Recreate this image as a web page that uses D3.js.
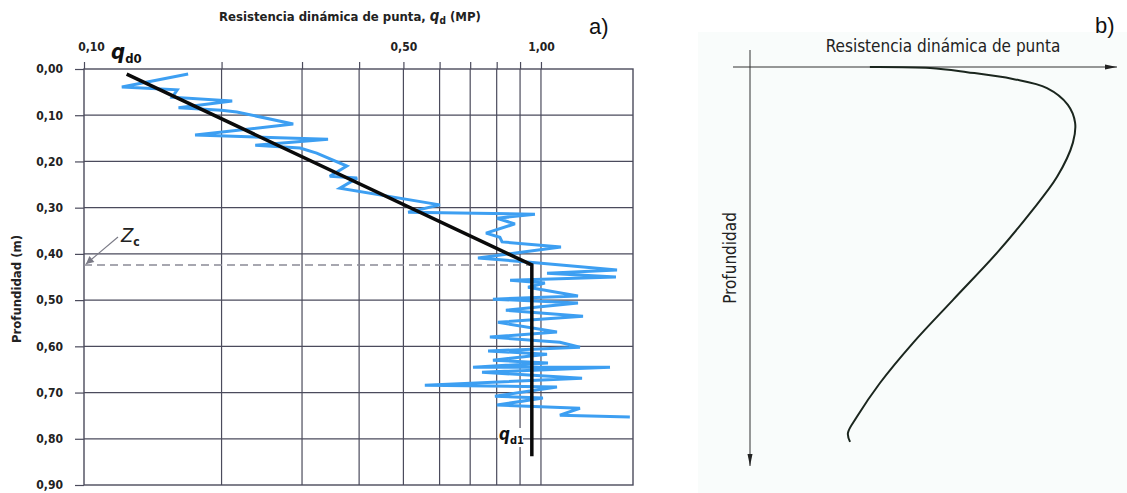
<!DOCTYPE html>
<html>
<head>
<meta charset="utf-8">
<script src="https://cdn.jsdelivr.net/npm/d3@7"></script>
<style>
  body { margin: 0; background: #fff; }
  svg { display: block; }
  .tick-label { font-family: "DejaVu Sans Condensed", "DejaVu Sans", sans-serif; font-weight: bold; font-size: 12px; fill: #222; }
  .axis-title { font-family: "DejaVu Sans Condensed", "DejaVu Sans", sans-serif; font-weight: bold; font-size: 13px; fill: #222; }
  .panel-tag { font-family: "Liberation Sans", Arial, sans-serif; font-size: 22px; fill: #111; }
</style>
</head>
<body>
<svg id="chart" width="1127" height="493"></svg>
<script>
// ---- Panel a data ----
// depth ticks (m) and resistance grid (MPa, log axis)
const depthTicks = [0, 0.1, 0.2, 0.3, 0.4, 0.5, 0.6, 0.7, 0.8, 0.9];
const qTicks = [0.1, 0.2, 0.3, 0.4, 0.5, 0.6, 0.7, 0.8, 0.9, 1.0];
const qLabelled = [0.1, 0.5, 1.0];

// measured trace: resistance qd and depth
const traceQ = [0.169, 0.121, 0.160, 0.156, 0.211, 0.161, 0.200, 0.216, 0.287, 0.175,
  0.342, 0.237, 0.297, 0.323, 0.376, 0.345, 0.396, 0.363, 0.601, 0.512,
  0.970, 0.801, 0.877, 0.758, 0.813, 0.822, 1.106, 0.728, 0.946, 1.467,
  1.031, 1.459, 0.856, 1.020, 0.937, 1.205, 0.785, 1.205, 0.838, 1.236,
  0.805, 1.084, 0.773, 1.100, 1.217, 0.766, 1.031, 0.785, 1.036, 0.710,
  1.416, 0.743, 1.230, 0.557, 1.084, 0.793, 1.010, 0.801, 1.217, 1.100, 1.565];
const traceDepth = [0.011, 0.039, 0.045, 0.061, 0.069, 0.084, 0.089, 0.093, 0.119, 0.143,
  0.152, 0.165, 0.171, 0.182, 0.210, 0.232, 0.236, 0.258, 0.294, 0.310,
  0.314, 0.323, 0.335, 0.355, 0.364, 0.374, 0.385, 0.409, 0.418, 0.435,
  0.442, 0.450, 0.457, 0.463, 0.472, 0.491, 0.498, 0.506, 0.522, 0.535,
  0.548, 0.569, 0.580, 0.591, 0.602, 0.610, 0.617, 0.630, 0.636, 0.645,
  0.645, 0.656, 0.669, 0.684, 0.688, 0.708, 0.712, 0.727, 0.734, 0.749, 0.753];

// idealised bilinear profile qd0 -> Zc -> qd1
const fitQ = [0.124, 0.955, 0.955];
const fitDepth = [0.011, 0.424, 0.838];
const zcDepth = 0.424;

// ---- Panel b data (schematic, relative units) ----
const curveR = [33.3, 50, 60.3, 73, 82.5, 88.3, 90.3, 89.7, 85.3, 77.8, 68.6, 56.4, 45.3, 36.1, 29.7, 27.2, 27.8];
const curveZ = [0, 0.25, 1.3, 3, 5.3, 9.5, 14, 19, 27.6, 36.7, 46.7, 58.5, 69.3, 79.4, 87.9, 92, 94.2];

const svg = d3.select('#chart');
const fmt = v => d3.format('.2f')(v).replace('.', ',');

// ================= Panel a =================
const x = d3.scaleLog().domain([0.1, 1.59]).range([84, 633]);
const y = d3.scaleLinear().domain([0, 0.9]).range([69, 485]);
const gridColor = '#4b4b5c';

const a = svg.append('g');

// grid
a.append('g').selectAll('line').data(qTicks.slice(1))
  .enter().append('line')
    .attr('x1', d => x(d)).attr('x2', d => x(d))
    .attr('y1', y(0)).attr('y2', y(0.9))
    .attr('stroke', gridColor).attr('stroke-width', 1.2);
a.append('g').selectAll('line').data(depthTicks.slice(1, -1))
  .enter().append('line')
    .attr('x1', x.range()[0]).attr('x2', x.range()[1])
    .attr('y1', d => y(d)).attr('y2', d => y(d))
    .attr('stroke', gridColor).attr('stroke-width', 1.2);
a.append('rect')
  .attr('x', x.range()[0]).attr('y', y(0))
  .attr('width', x.range()[1] - x.range()[0]).attr('height', y(0.9) - y(0))
  .attr('fill', 'none').attr('stroke', gridColor).attr('stroke-width', 1.4);

// top axis
const topAxis = a.append('g').attr('transform', `translate(0,${y(0)})`)
  .call(d3.axisTop(x).tickValues(qTicks).tickSize(7).tickPadding(11)
    .tickFormat(d => qLabelled.some(v => Math.abs(v - d) < 1e-9) ? fmt(d) : ''));
topAxis.select('.domain').remove();
topAxis.selectAll('line').attr('stroke', gridColor).attr('stroke-width', 1.2);
topAxis.selectAll('text').attr('class', 'tick-label').attr('dx', (d, i) => i === 0 ? 7 : 0);

// left axis
const leftAxis = a.append('g').attr('transform', `translate(${x.range()[0]},0)`)
  .call(d3.axisLeft(y).tickValues(depthTicks).tickSize(9).tickPadding(12).tickFormat(fmt));
leftAxis.select('.domain').remove();
leftAxis.selectAll('line').attr('stroke', gridColor).attr('stroke-width', 1.2);
leftAxis.selectAll('text').attr('class', 'tick-label');

// titles
const titleA = a.append('text').attr('class', 'axis-title')
  .attr('x', 350).attr('y', 21).attr('text-anchor', 'middle');
titleA.append('tspan').text('Resistencia dinámica de punta, ');
titleA.append('tspan').attr('font-style', 'italic').attr('font-size', 15).text('q');
titleA.append('tspan').attr('font-size', 10).attr('dy', 3).text('d');
titleA.append('tspan').attr('dy', -3).text(' (MP)');

a.append('text').attr('class', 'axis-title')
  .attr('transform', `translate(21,${(y(0) + y(0.9)) / 2 + 12}) rotate(-90)`)
  .attr('text-anchor', 'middle').text('Profundidad (m)');

a.append('text').attr('class', 'panel-tag').attr('x', 589).attr('y', 34).text('a)');

// Zc dashed line and label
a.append('line')
  .attr('x1', x.range()[0]).attr('x2', x(fitQ[1]))
  .attr('y1', y(zcDepth)).attr('y2', y(zcDepth))
  .attr('stroke', '#8a8a96').attr('stroke-width', 1.3).attr('stroke-dasharray', '8,5');

const defs = svg.append('defs');
defs.append('marker').attr('id', 'zcArrow')
  .attr('viewBox', '0 0 10 10').attr('refX', 10).attr('refY', 5)
  .attr('markerWidth', 9).attr('markerHeight', 7).attr('orient', 'auto')
  .append('path').attr('d', 'M0,0L10,5L0,10Z').attr('fill', '#7a7a86');
a.append('line')
  .attr('x1', 118).attr('y1', 237).attr('x2', x.range()[0] + 2).attr('y2', y(zcDepth) - 1)
  .attr('stroke', '#7a7a86').attr('stroke-width', 1.1).attr('marker-end', 'url(#zcArrow)');
const zc = a.append('text').attr('x', 121).attr('y', 242)
  .attr('font-family', '"DejaVu Sans Condensed", sans-serif').attr('fill', '#222');
zc.append('tspan').attr('font-style', 'italic').attr('font-size', 20).text('Z');
zc.append('tspan').attr('font-size', 12).attr('font-weight', 'bold').attr('dy', 4).text('c');

// measured trace
const pts = traceQ.map((q, i) => [x(q), y(traceDepth[i])]);
a.append('path')
  .attr('d', d3.line()(pts))
  .attr('fill', 'none').attr('stroke', '#3d9ff2').attr('stroke-width', 3)
  .attr('stroke-linejoin', 'miter').attr('stroke-miterlimit', 3);

// fitted profile
a.append('path')
  .attr('d', d3.line()(fitQ.map((q, i) => [x(q), y(fitDepth[i])])))
  .attr('fill', 'none').attr('stroke', '#0a0a0a').attr('stroke-width', 3.5);

// qd0 / qd1 labels
const qd0 = a.append('text').attr('x', 111).attr('y', 59)
  .attr('font-family', '"DejaVu Sans Condensed", sans-serif').attr('font-weight', 'bold').attr('fill', '#111');
qd0.append('tspan').attr('font-style', 'italic').attr('font-size', 22).text('q');
qd0.append('tspan').attr('font-size', 13).attr('dy', 4).text('d0');

a.append('rect').attr('x', 498).attr('y', 428).attr('width', 25).attr('height', 19).attr('fill', '#fff');
const qd1 = a.append('text').attr('x', 499).attr('y', 440)
  .attr('font-family', '"DejaVu Sans Condensed", sans-serif').attr('font-weight', 'bold').attr('fill', '#111');
qd1.append('tspan').attr('font-style', 'italic').attr('font-size', 17).text('q');
qd1.append('tspan').attr('font-size', 11).attr('dy', 4).text('d1');

// ================= Panel b =================
const b = svg.append('g');
b.append('rect').attr('x', 698).attr('y', 32).attr('width', 429).attr('height', 461).attr('fill', '#f9fcfb');

const xb = d3.scaleLinear().domain([0, 100]).range([750, 1110]);
const yb = d3.scaleLinear().domain([0, 100]).range([67, 465]);

defs.append('marker').attr('id', 'bArrow')
  .attr('viewBox', '0 0 12 6').attr('refX', 12).attr('refY', 3)
  .attr('markerWidth', 12).attr('markerHeight', 6).attr('markerUnits', 'userSpaceOnUse').attr('orient', 'auto')
  .append('path').attr('d', 'M0,0.5L12,3L0,5.5Z').attr('fill', '#222');

b.append('line').attr('x1', 733).attr('x2', 1117).attr('y1', yb(0)).attr('y2', yb(0))
  .attr('stroke', '#333').attr('stroke-width', 1).attr('marker-end', 'url(#bArrow)');
b.append('line').attr('x1', xb(0)).attr('x2', xb(0)).attr('y1', 50).attr('y2', 466)
  .attr('stroke', '#333').attr('stroke-width', 1).attr('marker-end', 'url(#bArrow)');

b.append('path')
  .attr('d', d3.line().curve(d3.curveCatmullRom)(curveR.map((r, i) => [xb(r), yb(curveZ[i])])))
  .attr('fill', 'none').attr('stroke', '#1b261e').attr('stroke-width', 2);

const sansB = '"DejaVu Sans Condensed", "DejaVu Sans", sans-serif';
b.append('text').attr('x', 943).attr('y', 52).attr('text-anchor', 'middle')
  .attr('font-family', sansB).attr('font-size', 17).attr('fill', '#222')
  .text('Resistencia dinámica de punta');
b.append('text').attr('transform', 'translate(736,258) rotate(-90)').attr('text-anchor', 'middle')
  .attr('font-family', sansB).attr('font-size', 17).attr('fill', '#222')
  .text('Profundidad');
b.append('text').attr('class', 'panel-tag').attr('x', 1095).attr('y', 33).text('b)');
</script>
</body>
</html>
